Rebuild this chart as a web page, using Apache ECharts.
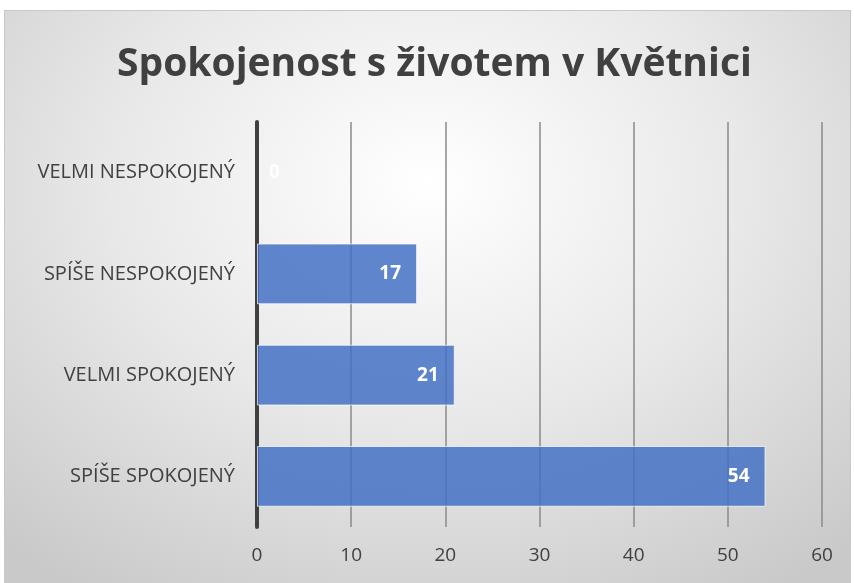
<!DOCTYPE html>
<html>
<head>
<meta charset="utf-8">
<script src="https://cdn.jsdelivr.net/npm/echarts@6/dist/echarts.min.js"></script>
<style>
  html, body { margin: 0; padding: 0; background: #fff; }
  .bg {
    position: absolute; left: 4px; top: 10px; width: 845px; height: 572px;
    border: 1px solid #c8c8c8;
    background: radial-gradient(ellipse 75% 85% at 50% 30%, #ffffff 0%, #e8e8e8 50%, #c9c9c9 100%);
  }
  #chart { position: absolute; left: 0; top: 0; width: 854px; height: 583px; }
</style>
</head>
<body>
<div class="bg"></div>
<div id="chart"></div>
<script>
const categories = ['SPÍŠE SPOKOJENÝ', 'VELMI SPOKOJENÝ', 'SPÍŠE NESPOKOJENÝ', 'VELMI NESPOKOJENÝ']
const values = [54, 21, 17, 0]
const titleText = 'Spokojenost s životem v Květnici'

const chart = echarts.init(document.getElementById('chart'))
const option = {
  backgroundColor: 'transparent',
  title: {
    text: titleText,
    left: 112,
    top: 40,
    textStyle: {
      fontFamily: 'Open Sans',
      fontSize: 39,
      fontWeight: 'bold',
      color: '#404040',
    },
  },
  grid: {
    left: 257,
    right: 32,
    top: 122,
    bottom: 56,
  },
  xAxis: {
    type: 'value',
    min: 0,
    max: 60,
    interval: 10,
    axisLine: { show: false },
    axisTick: { show: false },
    axisLabel: {
      margin: 19,
      fontFamily: 'Open Sans',
      fontSize: 19,
      color: '#404040',
    },
    splitLine: {
      lineStyle: { color: '#8a8a8a', width: 1.5 },
    },
  },
  yAxis: {
    type: 'category',
    data: categories,
    axisTick: { show: false },
    axisLine: {
      lineStyle: { color: '#404040', width: 4 },
    },
    axisLabel: {
      margin: 22,
      fontFamily: 'Open Sans',
      fontSize: 20,
      color: '#404040',
    },
  },
  series: [
    {
      type: 'bar',
      barCategoryGap: '40%',
      itemStyle: {
        color: 'rgba(68,114,196,0.85)',
        borderColor: 'rgba(255,255,255,0.7)',
        borderWidth: 1,
      },
      label: {
        show: true,
        position: 'insideRight',
        distance: 16,
        color: '#ffffff',
        fontFamily: 'Open Sans',
        fontWeight: 'bold',
        fontSize: 19,
      },
      data: values.map(v => v === 0
        ? { value: v, itemStyle: { borderWidth: 0 }, label: { position: 'right', distance: 12 } }
        : v),
    },
  ],
}
chart.setOption(option)
</script>
</body>
</html>
